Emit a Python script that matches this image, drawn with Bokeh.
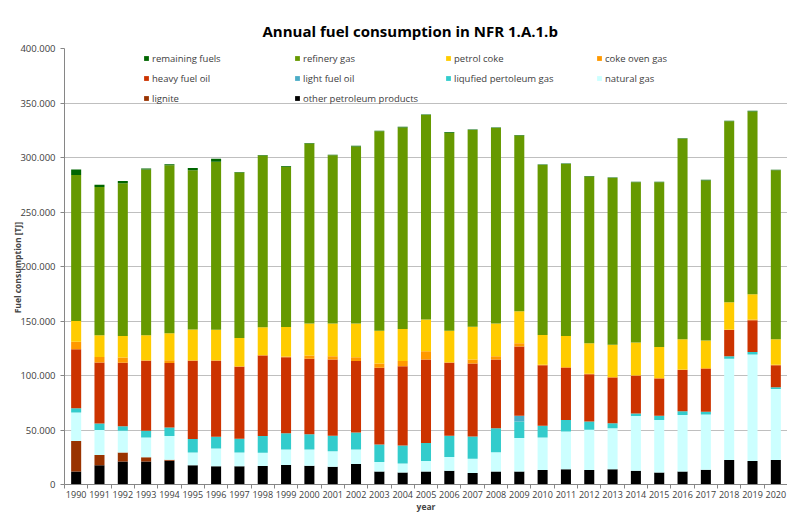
from bokeh.plotting import figure
from bokeh.models import Range1d, FixedTicker, Legend, LegendItem, Title
from bokeh.embed import file_html
from bokeh.resources import INLINE

years = list(range(1990, 2021))

other_petroleum = [12000, 17700, 21000, 21000, 21900, 17700, 16800, 16800, 17000, 18000, 17100, 16200, 18900, 12000, 11100, 12000, 12600, 10500, 12000, 12000, 13200, 14100, 13200, 14100, 12600, 11100, 12000, 13500, 22500, 21600, 22500]
lignite = [28000, 9300, 8400, 3900, 900, 0, 0, 0, 0, 0, 0, 0, 0, 0, 0, 0, 0, 0, 0, 0, 0, 0, 0, 0, 0, 0, 0, 0, 0, 0, 0]
natural_gas = [26000, 23000, 19800, 18300, 21600, 11700, 16200, 12600, 12200, 14100, 15000, 14400, 13200, 8700, 8100, 9600, 12600, 13200, 17700, 30600, 30000, 34500, 37000, 37600, 50200, 48100, 51700, 50800, 92800, 97600, 65200]
lpg = [4000, 6000, 4200, 6000, 7900, 12300, 10800, 12600, 15300, 15000, 14100, 14100, 15600, 15900, 16500, 16500, 19500, 20400, 22000, 15100, 10600, 10600, 7500, 4500, 2400, 3900, 3600, 2400, 2400, 2400, 1500]
light_fuel_oil = [0, 0, 0, 0, 0, 0, 0, 0, 0, 0, 0, 0, 0, 0, 0, 0, 0, 0, 0, 5400, 0, 0, 0, 0, 0, 0, 0, 0, 0, 0, 0]
heavy_fuel_oil = [54000, 56000, 58300, 64300, 59100, 71800, 69700, 66000, 73800, 69700, 69100, 70000, 65500, 70600, 72700, 76600, 67000, 67000, 63000, 63600, 55500, 48000, 43500, 42000, 34500, 34200, 37800, 39600, 24000, 29200, 20100]
coke_oven_gas = [7000, 5000, 4800, 500, 2600, 500, 500, 500, 500, 600, 3000, 3000, 3600, 3900, 4800, 7500, 500, 3600, 3000, 3000, 500, 500, 500, 500, 500, 500, 500, 500, 500, 500, 500]
petrol_coke = [19000, 20000, 19800, 23000, 24700, 28300, 28000, 26000, 25500, 27000, 29400, 30000, 30900, 30000, 29400, 29200, 28900, 30000, 30000, 29200, 27400, 28600, 28000, 29500, 30100, 28300, 27700, 25300, 25100, 23200, 23500]
refinery_gas = [134000, 136000, 140000, 152000, 154100, 146000, 154000, 151700, 157500, 147200, 165200, 154300, 162500, 182900, 185000, 187600, 181700, 180500, 179300, 161200, 155900, 157700, 152900, 152900, 146900, 151100, 183800, 146900, 166000, 167800, 155000]
remaining_fuels = [5000, 2000, 2100, 1000, 900, 2100, 2800, 500, 500, 500, 500, 500, 500, 500, 500, 500, 500, 500, 500, 500, 500, 500, 500, 500, 500, 500, 500, 500, 500, 500, 500]

y_ticks = [0, 50000, 100000, 150000, 200000, 250000, 300000, 350000, 400000]
y_tick_labels = ["0", "50.000", "100.000", "150.000", "200.000", "250.000", "300.000", "350.000", "400.000"]

# stack order bottom -> top
series = [
    ("other_petroleum", "other petroleum products", "#000000"),
    ("lignite", "lignite", "#993300"),
    ("natural_gas", "natural gas", "#CCFFFF"),
    ("lpg", "liqufied pertoleum gas", "#33CCCC"),
    ("light_fuel_oil", "light fuel oil", "#4BACC6"),
    ("heavy_fuel_oil", "heavy fuel oil", "#CC3300"),
    ("coke_oven_gas", "coke oven gas", "#FF9900"),
    ("petrol_coke", "petrol coke", "#FFCC00"),
    ("refinery_gas", "refinery gas", "#669900"),
    ("remaining_fuels", "remaining fuels", "#006600"),
]

data = dict(
    years=years,
    other_petroleum=other_petroleum,
    lignite=lignite,
    natural_gas=natural_gas,
    lpg=lpg,
    light_fuel_oil=light_fuel_oil,
    heavy_fuel_oil=heavy_fuel_oil,
    coke_oven_gas=coke_oven_gas,
    petrol_coke=petrol_coke,
    refinery_gas=refinery_gas,
    remaining_fuels=remaining_fuels,
)

FONT = "Open Sans"

p = figure(
    width=787, height=514,
    x_range=Range1d(years[0] - 0.5, years[-1] + 0.5),
    y_range=Range1d(0, 400000),
    output_backend="svg", toolbar_location=None,
    min_border_left=64, min_border_right=0, min_border_top=48, min_border_bottom=26,
)
p.title = Title(text="Annual fuel consumption  in NFR 1.A.1.b", align="left", offset=198,
                text_font=FONT, text_font_size="15px", text_font_style="bold",
                text_color="#000000", standoff=15)

renderers = p.vbar_stack(
    [s[0] for s in series], x="years", width=0.43, source=data,
    color=[s[2] for s in series], line_color=None,
)

rmap = {s[0]: r for s, r in zip(series, renderers)}
legend_order = ["remaining_fuels", "refinery_gas", "petrol_coke", "coke_oven_gas",
                "heavy_fuel_oil", "light_fuel_oil", "lpg", "natural_gas",
                "lignite", "other_petroleum"]
names = {s[0]: s[1] for s in series}
items = [LegendItem(label=names[k], renderers=[rmap[k]]) for k in legend_order]
legend = Legend(
    items=items, orientation="horizontal", ncols=4,
    location=(79, 376), padding=2, spacing=0, margin=0,
    glyph_width=6, glyph_height=6, label_standoff=3, label_width=142, label_height=20,
    label_text_font=FONT, label_text_font_size="9.5px", label_text_color="#404040",
    background_fill_alpha=0, border_line_color=None,
)
p.add_layout(legend, "center")

p.xgrid.grid_line_color = None
p.ygrid.grid_line_color = "#BFBFBF"
p.ygrid.grid_line_width = 1
p.outline_line_color = None

p.yaxis.ticker = FixedTicker(ticks=y_ticks)
p.yaxis.major_label_overrides = {t: l for t, l in zip(y_ticks, y_tick_labels)}
p.yaxis.minor_tick_line_color = None
p.yaxis.major_tick_out = 4
p.yaxis.major_tick_in = 0
p.yaxis.axis_line_color = "#868686"
p.yaxis.major_tick_line_color = "#868686"
p.yaxis.major_label_text_font = FONT
p.yaxis.major_label_text_font_size = "9.5px"
p.yaxis.major_label_text_color = "#404040"
p.yaxis.major_label_standoff = 5
p.yaxis.axis_label = "Fuel consumption  [TJ]"
p.yaxis.axis_label_text_font = FONT
p.yaxis.axis_label_text_font_size = "8.5px"
p.yaxis.axis_label_text_font_style = "bold"
p.yaxis.axis_label_standoff = -6

p.xaxis.ticker = FixedTicker(ticks=years, minor_ticks=[y - 0.5 for y in years] + [years[-1] + 0.5])
p.xaxis.major_label_overrides = {y: str(y) for y in years}
p.xaxis.axis_line_color = "#868686"
p.xaxis.major_tick_line_color = None
p.xaxis.major_tick_out = 0
p.xaxis.major_tick_in = 0
p.xaxis.minor_tick_line_color = "#868686"
p.xaxis.minor_tick_out = 4
p.xaxis.minor_tick_in = 0
p.xaxis.major_label_text_font = FONT
p.xaxis.major_label_text_font_size = "9px"
p.xaxis.major_label_text_color = "#404040"
p.xaxis.major_label_standoff = 2
p.xaxis.axis_label = "year"
p.xaxis.axis_label_text_font = FONT
p.xaxis.axis_label_text_font_size = "8.5px"
p.xaxis.axis_label_text_font_style = "bold"
p.xaxis.axis_label_standoff = 0

open("out.html", "w").write(file_html(p, INLINE))
